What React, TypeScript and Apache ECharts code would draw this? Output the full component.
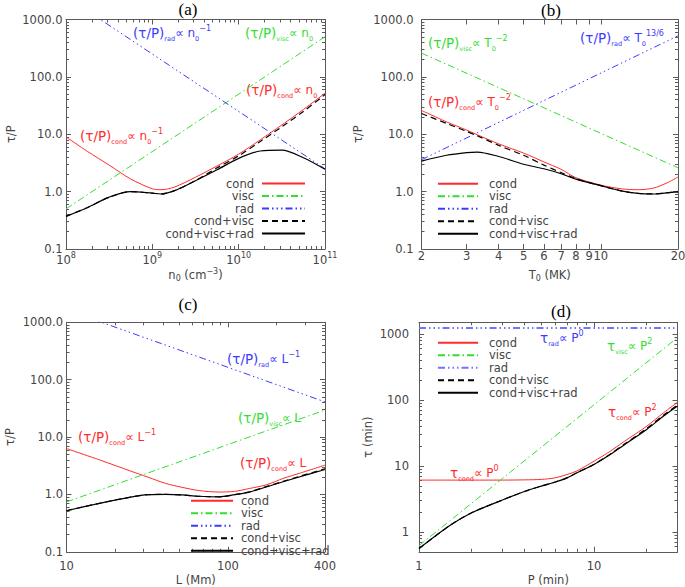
import React, { useEffect, useRef } from 'react';
import * as echarts from 'echarts';

const FONT = 'DejaVu Sans';
const SERIF = 'Liberation Serif';
const TXT = '#444444';
const FRAME = '#5a5a5a';
const RED = '#ff2b2b';
const GREEN = '#33dd33';
const BLUE = '#3b3bff';
const BLACK = '#000000';

const DASH_VISC = [7, 3, 1.5, 3];
const DASH_RAD = [7, 3, 1.5, 3, 1.5, 3, 1.5, 3];
const DASH_CV = [6, 4];

// ---------- panel (a): n0 ----------
const aN = [1e8, 1.78e8, 3.16e8, 5.62e8, 1e9, 1.26e9, 1.78e9, 3.16e9, 5.62e9, 1e10, 1.78e10, 3.16e10, 5.62e10, 1e11];
const aCond = [9.0, 5.0, 2.9, 1.66, 1.12, 1.08, 1.19, 1.78, 2.8, 4.5, 8.0, 14.5, 27, 52];
const aCondVisc = [0.37, 0.53, 0.8, 1.0, 0.94, 0.91, 1.03, 1.56, 2.6, 4.2, 7.5, 13.5, 25, 49];
const aAll = [0.37, 0.53, 0.8, 1.0, 0.94, 0.91, 1.03, 1.55, 2.4, 3.8, 5.1, 5.3, 3.9, 2.45];
const aLineN = [1e8, 1e11];
const aVisc = [0.5, 500];
const aRad = [2500, 2.5];

// ---------- panel (b): T0 ----------
const bT = [2, 2.5, 3, 3.3, 4, 5, 6, 7, 8, 10, 12, 14, 16, 18, 20];
const bCond = [26, 16.5, 11.8, 9.8, 6.8, 4.7, 3.3, 2.45, 1.75, 1.3, 1.12, 1.08, 1.15, 1.4, 1.8];
const bCondVisc = [23, 15.5, 11.2, 9.4, 6.4, 4.3, 2.9, 2.15, 1.68, 1.27, 1.03, 0.93, 0.91, 0.95, 0.99];
const bAll = [3.4, 4.3, 4.8, 4.9, 4.1, 3.0, 2.5, 2.05, 1.65, 1.27, 1.03, 0.93, 0.91, 0.95, 0.99];
const bLineT = [2, 20];
const bVisc = [260, 2.6];
const bRad = [3.6, 520];

// ---------- panel (c): L ----------
const cL = [10, 16, 25, 32, 41, 52, 66, 88, 110, 136, 175, 220, 280, 400];
const cCond = [6.3, 4.0, 2.55, 2.0, 1.56, 1.33, 1.17, 1.1, 1.13, 1.27, 1.48, 1.9, 2.35, 3.24];
const cCondVisc = [0.52, 0.7, 0.9, 0.99, 1.0, 0.98, 0.93, 0.91, 0.99, 1.11, 1.38, 1.69, 2.08, 2.8];
const cAll = [0.52, 0.7, 0.9, 0.99, 1.0, 0.98, 0.93, 0.91, 0.99, 1.1, 1.36, 1.66, 2.03, 2.72];
const cLineL = [10, 400];
const cVisc = [0.74, 29.5];
const cRad = [1650, 41];

// ---------- panel (d): P ----------
const dP = [1, 1.5, 2, 3, 4, 5, 6, 7, 8, 10, 12, 15, 20, 25, 30];
const dCond = [6.1, 6.1, 6.1, 6.1, 6.15, 6.25, 6.6, 7.4, 8.4, 11.8, 15.8, 23.8, 40, 64, 92];
const dCondVisc = [0.56, 1.25, 1.95, 3.05, 4.1, 4.95, 5.7, 6.6, 7.9, 10.6, 14.3, 21.6, 37, 59, 84];
const dAll = [0.56, 1.25, 1.95, 3.05, 4.1, 4.95, 5.7, 6.6, 7.9, 10.5, 14.1, 21.2, 35.7, 57, 81];
const dLineP = [1, 30];
const dVisc = [0.62, 880];
const dRad = [1230, 1230];

// ---------- ticks ----------
const minorsOf = (e0: number, e1: number) => {
  const out: number[] = [];
  for (let e = e0; e <= e1; e++) for (let k = 2; k <= 9; k++) out.push(Number((k * Math.pow(10, e)).toPrecision(6)));
  return out;
};
const aXMajor = [1e8, 1e9, 1e10, 1e11];
const aXMinor = minorsOf(8, 10);
const tauYMajor = [0.1, 1, 10, 100, 1000];
const tauYMinor = minorsOf(-1, 2);
const bXLabels = [2, 3, 4, 5, 6, 7, 8, 9, 10, 20];
const cXLabels = [10, 100, 400];
const cXMinor = [20, 30, 40, 50, 60, 70, 80, 90, 200, 300];
const dXLabels = [1, 10];
const dXMinor = [2, 3, 4, 5, 6, 7, 8, 9, 20];
const dYMajor = [1, 10, 100, 1000];
const dYMinor = [0.6, 0.7, 0.8, 0.9, ...minorsOf(0, 2)];

const LEG = ['cond', 'visc', 'rad', 'cond+visc', 'cond+visc+rad'];

const txt = { fontFamily: FONT, fontSize: 11.5, color: TXT };
const supRich = {
  s: { fontFamily: FONT, fontSize: 8, color: TXT, lineHeight: 8, verticalAlign: 'bottom' },
  p: { fontFamily: FONT, fontSize: 8, color: TXT, lineHeight: 8, verticalAlign: 'top' },
  b: { fontFamily: FONT, fontSize: 11.5, color: TXT, lineHeight: 15, verticalAlign: 'bottom' },
};

const fmt1 = (v: number) => (Math.round(v * 10) / 10).toFixed(1);
const fmtInt = (v: number) => String(Math.round(v));
const fmtPow = (v: number) => `{b|10}{p|${Math.round(Math.log10(v))}}`;

type AxisSpec = {
  min: number; max: number; major: number[]; minor: number[]; labels: number[];
  fmt: (v: number) => string; name: string; nameGap: number; margin: number;
};

function axes(gi: number, dir: 'x' | 'y', s: AxisSpec) {
  const pos = dir === 'x' ? ['bottom', 'top'] : ['left', 'right'];
  const common = {
    type: 'log', logBase: 10, gridIndex: gi, min: s.min, max: s.max, silent: true,
    splitLine: { show: false }, minorTick: { show: false }, minorSplitLine: { show: false },
    axisPointer: { show: false },
  };
  const tick = (vals: number[], len: number) => ({
    show: vals.length > 0, inside: true, length: len, customValues: vals,
    lineStyle: { color: FRAME, width: 1 },
  });
  const line = (show: boolean) => ({ show, onZero: false, lineStyle: { color: FRAME, width: 1 } });
  return [
    {
      ...common, position: pos[0], axisLine: line(true), axisTick: tick(s.major, 5),
      axisLabel: {
        show: true, customValues: s.labels, formatter: s.fmt, margin: s.margin, ...txt,
        rich: supRich, showMinLabel: true, showMaxLabel: true, hideOverlap: false,
      },
      name: s.name, nameLocation: 'middle', nameGap: s.nameGap,
      nameTextStyle: { ...txt, lineHeight: 15, rich: supRich },
    },
    { ...common, position: pos[0], axisLine: line(false), axisTick: tick(s.minor, 3), axisLabel: { show: false } },
    { ...common, position: pos[1], axisLine: line(true), axisTick: tick(s.major, 5), axisLabel: { show: false } },
    { ...common, position: pos[1], axisLine: line(false), axisTick: tick(s.minor, 3), axisLabel: { show: false } },
  ];
}

function line(p: string, gi: number, name: string, xs: number[], ys: number[], color: string, width: number, dash: any, smooth: number | boolean) {
  return {
    type: 'line', name: `${p}:${name}`, xAxisIndex: gi * 4, yAxisIndex: gi * 4,
    data: xs.map((x, i) => [x, ys[i]]), symbol: 'none', showSymbol: false, smooth,
    lineStyle: { color, width, type: dash }, itemStyle: { color }, silent: true, animation: false,
  };
}

function panelSeries(p: string, gi: number, xs: number[], cond: number[], cv: number[], all: number[], lx: number[], visc: number[], rad: number[], radWidth = 1, radColor = BLUE) {
  return [
    line(p, gi, 'cond', xs, cond, RED, 1, 'solid', 0.3),
    line(p, gi, 'visc', lx, visc, GREEN, 1, DASH_VISC, false),
    line(p, gi, 'rad', lx, rad, radColor, radWidth, DASH_RAD, false),
    line(p, gi, 'cond+visc', xs, cv, BLACK, 1.2, DASH_CV, 0.3),
    line(p, gi, 'cond+visc+rad', xs, all, BLACK, 1.2, 'solid', 0.3),
  ];
}

const legendBase = {
  orient: 'vertical', padding: 0, itemGap: 0.5, itemHeight: 11, selectedMode: false,
  itemStyle: { opacity: 0 },
  formatter: (n: string) => n.split(':')[1],
};

function annRich(color: string) {
  return {
    b: { fontFamily: FONT, fontSize: 13.5, fill: color, lineHeight: 18, verticalAlign: 'middle' },
    m: { fontFamily: FONT, fontSize: 12, fill: color, lineHeight: 18, verticalAlign: 'middle' },
    sub: { fontFamily: FONT, fontSize: 6.5, fill: color, lineHeight: 7, verticalAlign: 'bottom' },
    sup: { fontFamily: FONT, fontSize: 8, fill: color, lineHeight: 8, verticalAlign: 'top' },
  };
}

function ann(x: number, y: number, color: string, text: string) {
  return {
    type: 'text', x, y, silent: true,
    style: { text, rich: annRich(color), fill: color, fontFamily: FONT, fontSize: 13.5, align: 'left', verticalAlign: 'middle' },
  };
}

function title(x: number, y: number, text: string) {
  return {
    type: 'text', x, y, silent: true,
    style: { text, fill: '#000', fontFamily: SERIF, fontSize: 17, align: 'center', verticalAlign: 'middle' },
  };
}

export default function App() {
  const ref = useRef<HTMLDivElement>(null);
  useEffect(() => {
    if (!ref.current) return;
    const chart = echarts.init(ref.current, null, { renderer: 'svg' });

    const grids = [
      { left: 66, top: 19.5, width: 259, height: 229.5 },
      { left: 421.5, top: 19.5, width: 256.5, height: 229.5 },
      { left: 66.5, top: 322.3, width: 258.5, height: 229.5 },
      { left: 419, top: 322.3, width: 258.5, height: 229.5 },
    ].map((g) => ({ ...g, containLabel: false, outerBoundsMode: 'none', show: false }));

    const xAxis = [
      ...axes(0, 'x', { min: 1e8, max: 1e11, major: aXMajor, minor: aXMinor, labels: aXMajor, fmt: fmtPow, name: 'n{s|0} (cm{p|−3})', nameGap: 18, margin: 2 }),
      ...axes(1, 'x', { min: 2, max: 20, major: bXLabels, minor: [], labels: bXLabels, fmt: fmtInt, name: 'T{s|0} (MK)', nameGap: 18, margin: 1 }),
      ...axes(2, 'x', { min: 10, max: 400, major: cXLabels, minor: cXMinor, labels: cXLabels, fmt: fmtInt, name: 'L (Mm)', nameGap: 18, margin: 8 }),
      ...axes(3, 'x', { min: 1, max: 30, major: dXLabels, minor: dXMinor, labels: dXLabels, fmt: fmtInt, name: 'P (min)', nameGap: 20, margin: 8 }),
    ];
    const yAxis = [
      ...axes(0, 'y', { min: 0.1, max: 1000, major: tauYMajor, minor: tauYMinor, labels: tauYMajor, fmt: fmt1, name: 'τ/P', nameGap: 47, margin: 3.5 }),
      ...axes(1, 'y', { min: 0.1, max: 1000, major: tauYMajor, minor: tauYMinor, labels: tauYMajor, fmt: fmt1, name: 'τ/P', nameGap: 56, margin: 8 }),
      ...axes(2, 'y', { min: 0.1, max: 1000, major: tauYMajor, minor: tauYMinor, labels: tauYMajor, fmt: fmt1, name: 'τ/P', nameGap: 49, margin: 3.5 }),
      ...axes(3, 'y', { min: 0.5, max: 1500, major: dYMajor, minor: dYMinor, labels: dYMajor, fmt: fmtInt, name: 'τ (min)', nameGap: 40, margin: 10 }),
    ];

    const series = [
      ...panelSeries('a', 0, aN, aCond, aCondVisc, aAll, aLineN, aVisc, aRad),
      ...panelSeries('b', 1, bT, bCond, bCondVisc, bAll, bLineT, bVisc, bRad),
      ...panelSeries('c', 2, cL, cCond, cCondVisc, cAll, cLineL, cVisc, cRad),
      ...panelSeries('d', 3, dP, dCond, dCondVisc, dAll, dLineP, dVisc, dRad, 2, '#7373ff'),
    ];

    const legend = [
      { ...legendBase, right: 379, top: 177.5, align: 'right', itemWidth: 43, data: LEG.map((n) => 'a:' + n), textStyle: { ...txt, padding: [0, 3, 0, 0] } },
      { ...legendBase, left: 437, top: 177.8, align: 'left', itemWidth: 40, data: LEG.map((n) => 'b:' + n), textStyle: { ...txt, padding: [0, 0, 0, 6] } },
      { ...legendBase, left: 190, top: 494.8, align: 'left', itemWidth: 42, data: LEG.map((n) => 'c:' + n), textStyle: { ...txt, padding: [0, 0, 0, 3] } },
      { ...legendBase, left: 437, top: 336.8, align: 'left', itemWidth: 40, data: LEG.map((n) => 'd:' + n), textStyle: { ...txt, padding: [0, 0, 0, 6] } },
    ];

    const graphic = {
      elements: [
        title(188, 9, '(a)'),
        title(551, 10, '(b)'),
        title(188, 304, '(c)'),
        title(561, 311, '(d)'),
        ann(133, 33, BLUE, '{b|(τ/P)}{sub|rad}{m|∝ n}{sub|0}{sup|−1}'),
        ann(245, 33, GREEN, '{b|(τ/P)}{sub|visc}{m|∝ n}{sub|0}'),
        ann(246, 90, RED, '{b|(τ/P)}{sub|cond}{m|∝ n}{sub|0}'),
        ann(80, 136, RED, '{b|(τ/P)}{sub|cond}{m|∝ n}{sub|0}{sup|−1}'),
        ann(428, 43, GREEN, '{b|(τ/P)}{sub|visc}{m|∝ T}{sub|0}{sup|−2}'),
        ann(580, 38, BLUE, '{b|(τ/P)}{sub|rad}{m|∝ T}{sub|0}{sup|13/6}'),
        ann(428, 102, RED, '{b|(τ/P)}{sub|cond}{m|∝ T}{sub|0}{sup|−2}'),
        ann(227, 359, BLUE, '{b|(τ/P)}{sub|rad}{m|∝ L}{sup|−1}'),
        ann(238, 418, GREEN, '{b|(τ/P)}{sub|visc}{m|∝ L}'),
        ann(78, 437, RED, '{b|(τ/P)}{sub|cond}{m|∝ L}{sup|−1}'),
        ann(240, 463, RED, '{b|(τ/P)}{sub|cond}{m|∝ L}'),
        ann(540, 338, BLUE, '{b|τ}{sub|rad}{m|∝ P}{sup|0}'),
        ann(607, 346, GREEN, '{b|τ}{sub|visc}{m|∝ P}{sup|2}'),
        ann(608, 412, RED, '{b|τ}{sub|cond}{m|∝ P}{sup|2}'),
        ann(450, 473, RED, '{b|τ}{sub|cond}{m|∝ P}{sup|0}'),
      ],
    };

    chart.setOption({
      animation: false,
      backgroundColor: '#ffffff',
      grid: grids,
      xAxis,
      yAxis,
      legend,
      series,
      graphic,
    } as any);
    return () => chart.dispose();
  }, []);
  return <div ref={ref} style={{ position: 'fixed', left: 0, top: 0, width: 685, height: 587 }} />;
}
